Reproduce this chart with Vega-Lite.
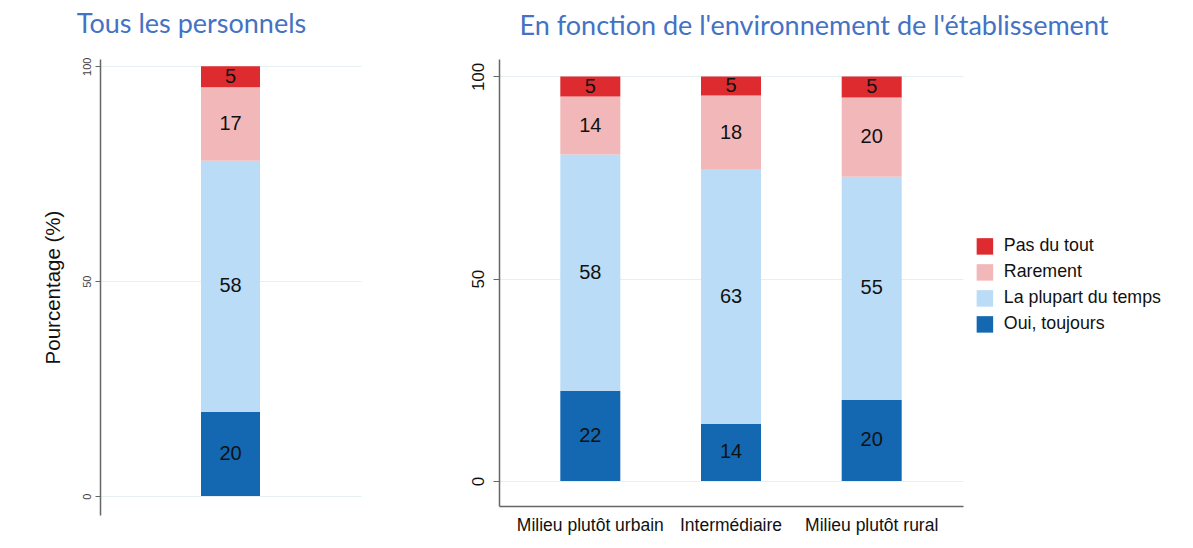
{
  "$schema": "https://vega.github.io/schema/vega-lite/v6.json",
  "background": "white",
  "padding": {"left": 43, "top": 11, "right": 5, "bottom": 5},
  "config": {"view": {"stroke": null}, "font": "Liberation Sans"},
  "datasets": {
    "tous": [
      {"groupe": "Tous les personnels", "reponse": "Oui, toujours", "ordre": 1, "valeur": 19.6},
      {"groupe": "Tous les personnels", "reponse": "La plupart du temps", "ordre": 2, "valeur": 58.4},
      {"groupe": "Tous les personnels", "reponse": "Rarement", "ordre": 3, "valeur": 17.1},
      {"groupe": "Tous les personnels", "reponse": "Pas du tout", "ordre": 4, "valeur": 4.9}
    ],
    "milieux": [
      {"milieu": "Milieu plutôt urbain", "reponse": "Oui, toujours", "ordre": 1, "valeur": 22.3},
      {"milieu": "Milieu plutôt urbain", "reponse": "La plupart du temps", "ordre": 2, "valeur": 58.4},
      {"milieu": "Milieu plutôt urbain", "reponse": "Rarement", "ordre": 3, "valeur": 14.3},
      {"milieu": "Milieu plutôt urbain", "reponse": "Pas du tout", "ordre": 4, "valeur": 5.0},
      {"milieu": "Intermédiaire", "reponse": "Oui, toujours", "ordre": 1, "valeur": 14.1},
      {"milieu": "Intermédiaire", "reponse": "La plupart du temps", "ordre": 2, "valeur": 62.8},
      {"milieu": "Intermédiaire", "reponse": "Rarement", "ordre": 3, "valeur": 18.4},
      {"milieu": "Intermédiaire", "reponse": "Pas du tout", "ordre": 4, "valeur": 4.7},
      {"milieu": "Milieu plutôt rural", "reponse": "Oui, toujours", "ordre": 1, "valeur": 20.0},
      {"milieu": "Milieu plutôt rural", "reponse": "La plupart du temps", "ordre": 2, "valeur": 55.2},
      {"milieu": "Milieu plutôt rural", "reponse": "Rarement", "ordre": 3, "valeur": 19.6},
      {"milieu": "Milieu plutôt rural", "reponse": "Pas du tout", "ordre": 4, "valeur": 5.2}
    ]
  },
  "spacing": 107,
  "resolve": {
    "scale": {"color": "independent", "y": "independent", "x": "independent"},
    "legend": {"color": "independent"}
  },
  "hconcat": [
    {
      "title": {"text": "Tous les personnels", "font": "Lato", "fontSize": 27, "fontWeight": "normal", "color": "#4472C4", "anchor": "middle", "frame": "group", "dx": -39, "offset": 18},
      "data": {"name": "tous"},
      "width": 261,
      "height": 456,
      "encoding": {
        "x": {"field": "groupe", "type": "nominal", "axis": null, "scale": {"paddingInner": 0, "paddingOuter": 0}},
        "order": {"field": "ordre", "type": "quantitative"}
      },
      "layer": [
        {
          "mark": {"type": "bar", "width": 59},
          "encoding": {
            "y": {
              "field": "valeur", "type": "quantitative", "stack": "zero",
              "scale": {"domain": [-4.4, 101.7], "nice": false, "zero": false},
              "axis": {
                "values": [0, 50, 100], "title": "Pourcentage (%)", "titleFontSize": 20.5, "titleFontWeight": "normal",
                "titleColor": "#111", "titlePadding": 18, "labelAngle": -90, "labelAlign": "center", "labelBaseline": "bottom",
                "labelFontSize": 11, "labelColor": "#444", "labelPadding": 3, "tickSize": 5, "tickColor": "#666",
                "domainColor": "#666", "domainWidth": 1.5, "grid": true, "gridColor": "#e6eff1", "gridWidth": 1.2
              }
            },
            "color": {
              "field": "reponse", "type": "nominal",
              "scale": {"domain": ["Pas du tout", "Rarement", "La plupart du temps", "Oui, toujours"], "range": ["#dd2b30", "#f2b8b9", "#badcf7", "#1468b2"]},
              "legend": null
            }
          }
        },
        {
          "mark": {"type": "text", "fontSize": 20, "color": "#111"},
          "encoding": {
            "y": {"field": "valeur", "type": "quantitative", "stack": "zero", "bandPosition": 0.5},
            "detail": {"field": "reponse", "type": "nominal"},
            "text": {"field": "valeur", "type": "quantitative", "format": ".0f"}
          }
        }
      ]
    },
    {
      "title": {"text": "En fonction de l'environnement de l'établissement", "font": "Lato", "fontSize": 27, "fontWeight": "normal", "color": "#4472C4", "anchor": "middle", "frame": "group", "dx": 83, "offset": 18},
      "data": {"name": "milieux"},
      "width": 464,
      "height": 447,
      "encoding": {
        "x": {
          "field": "milieu", "type": "nominal",
          "sort": ["Milieu plutôt urbain", "Intermédiaire", "Milieu plutôt rural"],
          "scale": {"paddingInner": 0, "paddingOuter": 0.149},
          "axis": {"title": null, "ticks": false, "labelAngle": 0, "labelFontSize": 17.5, "labelColor": "#111", "labelPadding": 10, "domainColor": "#666", "domainWidth": 1.5, "grid": false}
        },
        "order": {"field": "ordre", "type": "quantitative"}
      },
      "layer": [
        {
          "mark": {"type": "bar", "width": 60},
          "encoding": {
            "y": {
              "field": "valeur", "type": "quantitative", "stack": "zero",
              "scale": {"domain": [-6.2, 104.3], "nice": false, "zero": false},
              "axis": {
                "values": [0, 50, 100], "title": null, "labelAngle": -90, "labelAlign": "center", "labelBaseline": "bottom",
                "labelFontSize": 17, "labelColor": "#111", "labelPadding": 6, "tickSize": 6, "tickColor": "#666",
                "domainColor": "#666", "domainWidth": 1.5, "grid": true, "gridColor": "#e6eff1", "gridWidth": 1.2
              }
            },
            "color": {
              "field": "reponse", "type": "nominal",
              "scale": {"domain": ["Pas du tout", "Rarement", "La plupart du temps", "Oui, toujours"], "range": ["#dd2b30", "#f2b8b9", "#badcf7", "#1468b2"]},
              "legend": {"title": null, "orient": "none", "legendX": 477, "legendY": 178.5, "symbolType": "square", "symbolSize": 272, "symbolStrokeWidth": 0, "labelFontSize": 17.8, "labelColor": "#111", "labelOffset": 10, "rowPadding": 7}
            }
          }
        },
        {
          "mark": {"type": "text", "fontSize": 20, "color": "#111"},
          "encoding": {
            "y": {"field": "valeur", "type": "quantitative", "stack": "zero", "bandPosition": 0.5},
            "detail": {"field": "reponse", "type": "nominal"},
            "text": {"field": "valeur", "type": "quantitative", "format": ".0f"}
          }
        }
      ]
    }
  ]
}
